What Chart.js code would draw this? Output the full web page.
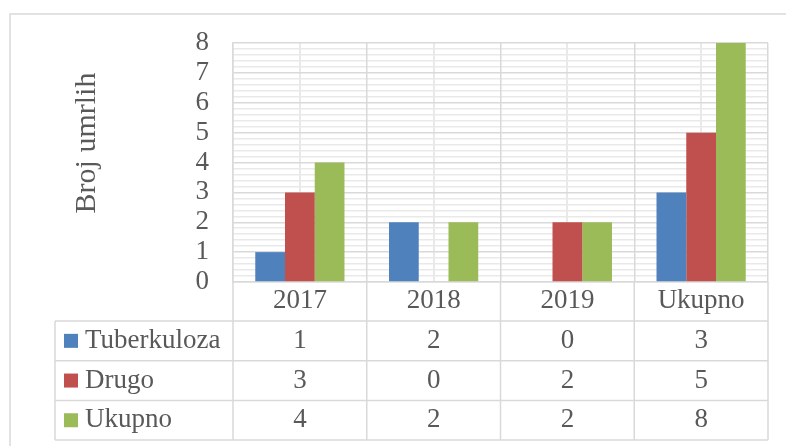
<!DOCTYPE html>
<html>
<head>
<meta charset="utf-8">
<script src="https://cdn.jsdelivr.net/npm/chart.js@4/dist/chart.umd.min.js"></script>
<style>
  html, body { margin: 0; padding: 0; background: #fff; }
  #wrap { width: 786px; height: 446px; }
</style>
</head>
<body>
<div id="wrap"><canvas id="myChart" width="786" height="446"></canvas></div>
<script>
// Podaci
const categories = ['2017', '2018', '2019', 'Ukupno'];
const seriesNames = ['Tuberkuloza', 'Drugo', 'Ukupno'];
const tuberkuloza = [1, 2, 0, 3];
const drugo = [3, 0, 2, 5];
const ukupno = [4, 2, 2, 8];
const yTicks = [0, 1, 2, 3, 4, 5, 6, 7, 8];
const axisTitle = 'Broj umrlih';

const colors = ['#4F81BD', '#C0504D', '#9BBB59'];
const textColor = '#595959';
const gridColor = '#d9d9d9';
const faintColor = '#e9e9e9';
const fontFamily = '"Liberation Serif", "Times New Roman", serif';

// Okvir i tablica podataka ispod grafa
const tablePlugin = {
    id: 'dataTable',
    beforeDraw(chart) {
        const ctx = chart.ctx;
        ctx.save();
        ctx.fillStyle = '#fff';
        ctx.fillRect(0, 0, chart.width, chart.height);
        ctx.strokeStyle = gridColor;
        ctx.lineWidth = 1.5;
        ctx.strokeRect(10, 14, 820, 500);
        ctx.restore();
    },
    afterDraw(chart) {
        const ctx = chart.ctx;
        const xs = chart.scales.x;
        const colW = xs.width / categories.length;
        const top = chart.chartArea.bottom;
        const tableTop = top + 39;
        const rowH = 39.7;
        const tableBottom = tableTop + rowH * seriesNames.length;
        const leftX = 55;
        const rows = [tuberkuloza, drugo, ukupno];

        ctx.save();
        ctx.strokeStyle = gridColor;
        ctx.lineWidth = 1.5;
        ctx.beginPath();
        for (let i = 0; i <= categories.length; i++) {
            const x = xs.left + i * colW;
            ctx.moveTo(x, top);
            ctx.lineTo(x, tableBottom);
        }
        ctx.moveTo(leftX, tableTop);
        ctx.lineTo(leftX, tableBottom);
        for (let r = 0; r <= seriesNames.length; r++) {
            const y = tableTop + r * rowH;
            ctx.moveTo(leftX, y);
            ctx.lineTo(xs.right, y);
        }
        ctx.stroke();

        ctx.font = '27px ' + fontFamily;
        ctx.textBaseline = 'middle';
        for (let r = 0; r < seriesNames.length; r++) {
            const cy = tableTop + r * rowH + rowH / 2;
            ctx.fillStyle = colors[r];
            ctx.fillRect(64, cy - 7, 14, 14);
            ctx.fillStyle = textColor;
            ctx.textAlign = 'left';
            ctx.fillText(seriesNames[r], 85, cy);
            ctx.textAlign = 'center';
            rows[r].forEach(function(v, i) {
                ctx.fillText(String(v), xs.getPixelForValue(i), cy);
            });
        }

        // Naslov osi Y
        ctx.translate(87, 143);
        ctx.rotate(-Math.PI / 2);
        ctx.font = '30px ' + fontFamily;
        ctx.textAlign = 'center';
        ctx.fillText(axisTitle, 0, 0);
        ctx.restore();
    }
};

const ctx = document.getElementById('myChart').getContext('2d');
new Chart(ctx, {
    type: 'bar',
    data: {
        labels: categories,
        datasets: [
            { label: seriesNames[0], data: tuberkuloza, backgroundColor: colors[0] },
            { label: seriesNames[1], data: drugo, backgroundColor: colors[1] },
            { label: seriesNames[2], data: ukupno, backgroundColor: colors[2] }
        ]
    },
    options: {
        responsive: false,
        animation: false,
        events: [],
        categoryPercentage: 0.667,
        barPercentage: 1,
        borderWidth: 0,
        layout: { padding: { left: 0, top: 43, right: 18, bottom: 125 } },
        plugins: {
            legend: { display: false },
            tooltip: { enabled: false }
        },
        scales: {
            x: {
                grid: { color: gridColor, lineWidth: 1.5, drawTicks: false, offset: true },
                border: { color: gridColor, width: 1.5 },
                ticks: { color: textColor, font: { family: fontFamily, size: 27 }, padding: 3, maxRotation: 0, autoSkip: false },
                afterFit(scale) { scale.height = 39; }
            },
            xMid: {
                type: 'category',
                labels: categories,
                position: 'bottom',
                offset: true,
                grid: { color: faintColor, lineWidth: 2, drawTicks: false, offset: false, z: -2 },
                border: { display: false },
                ticks: { display: false },
                afterFit(scale) { scale.height = 0; }
            },
            y: {
                min: 0,
                max: 8,
                afterBuildTicks(scale) {
                    scale.ticks = yTicks.map(function(v) { return { value: v }; });
                },
                grid: { color: gridColor, lineWidth: 1.5, drawTicks: false },
                border: { color: gridColor, width: 1.5 },
                ticks: { color: textColor, font: { family: fontFamily, size: 27 }, padding: 24, autoSkip: false },
                afterFit(scale) { scale.width = 233; }
            },
            yMinor: {
                position: 'left',
                min: 0,
                max: 8,
                ticks: { display: false, stepSize: 0.2, autoSkip: false },
                grid: {
                    drawTicks: false,
                    z: -2,
                    lineWidth: 1.5,
                    color: function(c) {
                        const v = c.tick ? c.tick.value : 0;
                        return Math.abs(v - Math.round(v)) < 1e-6 ? 'rgba(0,0,0,0)' : faintColor;
                    }
                },
                border: { display: false },
                afterFit(scale) { scale.width = 0; }
            }
        }
    },
    plugins: [tablePlugin]
});
</script>
</body>
</html>
